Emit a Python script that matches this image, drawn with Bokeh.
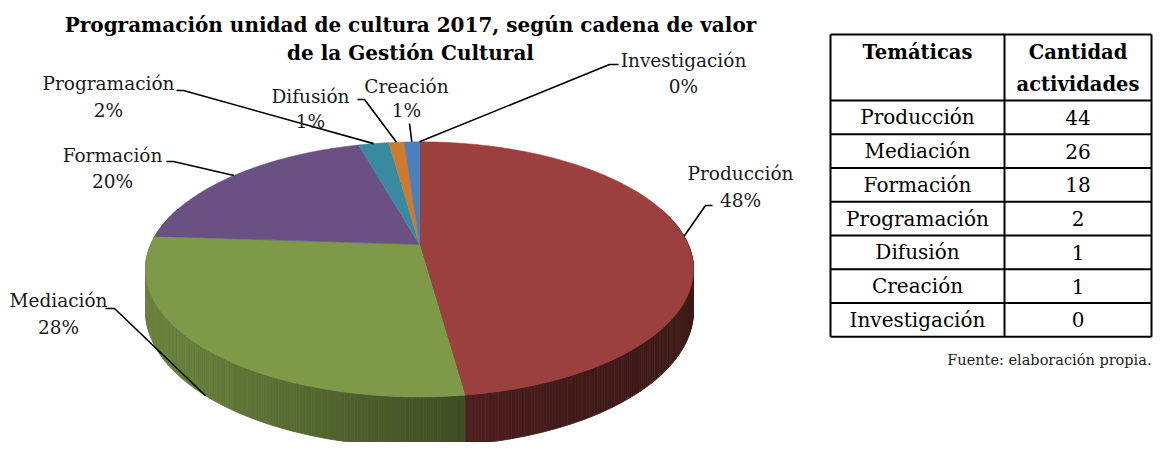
import numpy as np
from bokeh.plotting import figure
from bokeh.models import Range1d
from bokeh.core.properties import value
from bokeh.embed import file_html
from bokeh.resources import INLINE

# ---------------- data ----------------
categories = ["Producción", "Mediación", "Formación", "Programación",
              "Difusión", "Creación", "Investigación"]
counts = [44, 26, 18, 2, 1, 1, 0]
slice_colors = ["#9b403e", "#7e9a48", "#6a5083", "#3a8a9f",
                "#d07a30", "#4c7fbe", "#4f81bd"]
title_lines = ["Programación unidad de cultura 2017, según cadena de valor",
               "de la Gestión Cultural"]
table_headers = ["Temáticas", ["Cantidad", "actividades"]]
source_note = "Fuente: elaboración propia."

# ---------------- layout / style ----------------
W, H = 1153, 442
SERIF = value("DejaVu Serif")

# pie projection parameters (screen pixels)
CX = 419.0
CC = 244.0               # projected centre y
BB = 75.1
KK = 0.195
AA = 268.7
DEPTH = 40.0

def proj(phi_deg, r=1.0, drop=0.0):
    phi = np.radians(phi_deg)
    u = r * np.sin(phi)
    v = r * np.cos(phi)
    w = 1.0 + KK * v
    return CX + AA * u / w, (CC - BB * v) / w + drop / w

def hex_scale(hexc, f):
    h = hexc.lstrip("#")
    rgb = [int(h[i:i + 2], 16) for i in (0, 2, 4)]
    return "#%02x%02x%02x" % tuple(int(max(0, min(255, round(c * f)))) for c in rgb)

def side_shade(u):
    return float(np.interp(u, [-1, -0.6, 0.12, 0.5, 1], [0.86, 0.78, 0.50, 0.42, 0.40]))

# label layout: name centre x, name y, pct y, elbow points, anchor on bottom edge?
label_layout = {
    "Producción":    (740, 173, 200, [(712, 205), (705, 205)], False),
    "Mediación":     (58, 300, 327, [(105, 308), (114, 308)], True),
    "Formación":     (112, 155, 181, [(166, 161), (173, 161)], False),
    "Programación":  (108, 83, 110, [(176, 90), (183, 90)], False),
    "Difusión":      (310, 96, 121, [(357, 99), (364, 99)], False),
    "Creación":      (406, 86, 110, [(409, 123)], False),
    "Investigación": (683, 60, 86, [(618, 64), (609, 64)], False),
}

p = figure(width=W, height=H, output_backend="svg", toolbar_location=None,
           x_range=Range1d(0, W), y_range=Range1d(H, 0),
           min_border=0, min_border_left=0, min_border_right=0,
           min_border_top=0, min_border_bottom=0)
p.axis.visible = False
p.grid.visible = False
p.outline_line_color = None
p.background_fill_color = "white"
p.border_fill_color = "white"

total = float(sum(counts))
angles = np.array(counts) / total * 360.0
ends = np.cumsum(angles)
starts = ends - angles

# ---- side walls ----
strips = []
for i in range(len(categories)):
    a0, a1 = starts[i], ends[i]
    if a1 - a0 <= 0:
        continue
    n = max(2, int(np.ceil((a1 - a0) / 0.6)))
    angs = np.linspace(a0, a1, n + 1)
    for j in range(n):
        b0, b1 = angs[j], angs[j + 1]
        mid = np.radians((b0 + b1) / 2)
        vm, um = np.cos(mid), np.sin(mid)
        if vm > 0.3:
            continue
        x0, y0 = proj(b0)
        x1, y1 = proj(b1)
        x0b, y0b = proj(b0, drop=DEPTH)
        x1b, y1b = proj(b1, drop=DEPTH)
        c = hex_scale(slice_colors[i], side_shade(um))
        strips.append((vm, [x0, x1, x1b, x0b], [y0, y1, y1b, y0b], c))
strips.sort(key=lambda s: -s[0])
p.patches(xs=[s[1] for s in strips], ys=[s[2] for s in strips],
          fill_color=[s[3] for s in strips], line_color=[s[3] for s in strips],
          line_width=0.8)

# ---- top faces ----
txs, tys, tcs = [], [], []
for i in range(len(categories)):
    a0, a1 = starts[i], ends[i]
    if a1 - a0 <= 0:
        continue
    n = max(2, int(np.ceil((a1 - a0) / 0.5)))
    angs = np.linspace(a0, a1, n + 1)
    xs, ys = proj(angs)
    cx, cy = proj(0.0, r=0.0)
    txs.append([cx] + list(xs))
    tys.append([cy] + list(ys))
    tcs.append(slice_colors[i])
p.patches(xs=txs, ys=tys, fill_color=tcs, line_color=tcs, line_width=0.6)

# ---- data labels + leader lines ----
lx, ly = [], []
nx, ny, nt = [], [], []
for i, cat in enumerate(categories):
    x, yn, yp, elbow, bottom = label_layout[cat]
    mid = (starts[i] + ends[i]) / 2
    ax, ay = proj(mid, drop=DEPTH if bottom else 0.0)
    pts = elbow + [(ax, ay)]
    lx.append([pt[0] for pt in pts])
    ly.append([pt[1] for pt in pts])
    pct = "%d%%" % round(counts[i] / total * 100)
    nx += [x, x]
    ny += [yn, yp]
    nt += [cat, pct]
p.multi_line(xs=lx, ys=ly, line_color="black", line_width=1.6)
p.text(x=nx, y=ny, text=nt, text_font=SERIF, text_font_size="18.5px",
       text_align="center", text_baseline="middle", text_color="#1a1a1a")

# ---- title ----
p.text(x=[410, 410], y=[24, 52], text=title_lines, text_font=SERIF,
       text_font_size="20px", text_font_style="bold", text_align="center",
       text_baseline="middle", text_color="black")

# ---- table ----
TL, TD, TR = 830, 1004, 1151
TT, HB = 34, 100
ROW = 33.75
nrows = len(categories)
TB = HB + ROW * nrows
hx = [[TL, TR], [TL, TR]] + [[TL, TR] for k in range(nrows)]
hy = [[TT, TT], [HB, HB]] + [[HB + ROW * (k + 1)] * 2 for k in range(nrows)]
vx = [[TL, TL], [TD, TD], [TR, TR]]
vy = [[TT, TB]] * 3
p.multi_line(xs=hx + vx, ys=hy + vy, line_color="black", line_width=2)

c1 = (TL + TD) / 2
c2 = (TD + TR) / 2
p.text(x=[c1, c2, c2], y=[52, 52, 84],
       text=[table_headers[0]] + table_headers[1], text_font=SERIF,
       text_font_size="19.5px", text_font_style="bold", text_align="center",
       text_baseline="middle", text_color="black")
rx, ry, rt = [], [], []
for k, cat in enumerate(categories):
    yc = HB + ROW * (k + 0.5)
    rx += [c1, c2]
    ry += [yc, yc]
    rt += [cat, str(counts[k])]
p.text(x=rx, y=ry, text=rt, text_font=SERIF, text_font_size="20px",
       text_align="center", text_baseline="middle", text_color="black")
p.text(x=[1151], y=[359], text=[source_note], text_font=SERIF,
       text_font_size="14.5px", text_align="right", text_baseline="middle",
       text_color="#222222")

open("out.html", "w").write(file_html(p, INLINE))
